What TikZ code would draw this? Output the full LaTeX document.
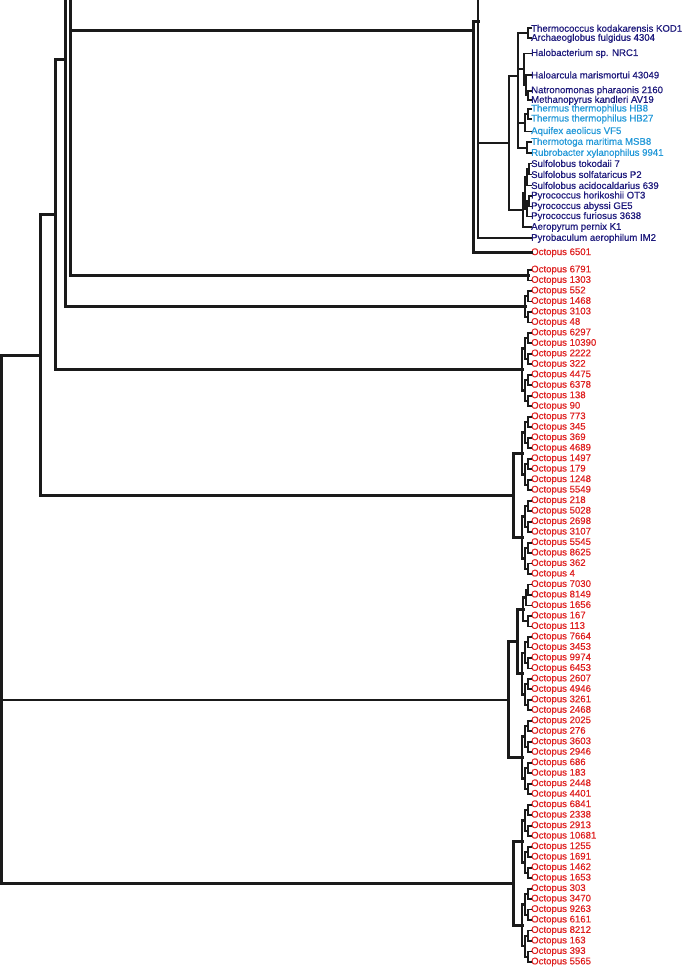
\documentclass[tikz,border=0pt]{standalone}
\usepackage{fontspec}
\setmainfont{Liberation Sans}
\newfontfamily\labfont[FakeBold=0.6]{Liberation Sans}
\definecolor{archblue}{HTML}{1E1A7C}
\definecolor{bactcyan}{HTML}{2298D8}
\definecolor{octred}{HTML}{DE2020}
\definecolor{treeblk}{HTML}{1A1A1A}
\newcommand\tl[4]{\node[lab,text=#3] (#1) at (531,#2) {#4};}
\newcommand\pr[1]{\draw[tk] (531,{oy(#1)}) -| (528,{oy(#1+1)}) -- (531,{oy(#1+1)});}
\newcommand\qd[1]{\pr{#1}\pr{#1+2}\draw[tk] (528,{oy(#1+0.5)}) -| (525,{oy(#1+2.5)}) -- (528,{oy(#1+2.5)});}
\newcommand\oc[1]{\qd{#1}\qd{#1+4}\draw[tk2] (525,{oy(#1+1.5)}) -| (522,{oy(#1+5.5)}) -- (525,{oy(#1+5.5)});}
\newcommand\sx[1]{\oc{#1}\oc{#1+8}\draw[br] (522,{oy(#1+3.5)}) -| (513,{oy(#1+11.5)}) -- (522,{oy(#1+11.5)});}
\begin{document}
\begin{tikzpicture}[x=1pt,y=-1pt,
  declare function={oy(\i)=270+10.4848*\i;},
  lab/.style={anchor=west,inner sep=0pt,font=\labfont\fontsize{9.6}{10}\selectfont},
  olab/.style={lab,text=octred},
  br/.style={line width=3pt,draw=treeblk,line cap=rect,line join=miter},
  thinbr/.style={line width=2.1pt,draw=treeblk,line cap=rect},
  tk/.style={line width=1.8pt,draw=treeblk,line cap=rect},
  tk2/.style={line width=2.4pt,draw=treeblk,line cap=rect}]
\useasboundingbox (0,0) rectangle (685,968);
% ---- top labels
\tl{t1}{28.3}{archblue}{Thermococcus kodakarensis KOD1}
\tl{t2}{38.3}{archblue}{Archaeoglobus fulgidus 4304}
\tl{t3}{53.5}{archblue}{Halobacterium sp. NRC1}
\tl{t4}{75}{archblue}{Haloarcula marismortui 43049}
\tl{t5}{90.7}{archblue}{Natronomonas pharaonis 2160}
\tl{t6}{100.3}{archblue}{Methanopyrus kandleri AV19}
\tl{t7}{109}{bactcyan}{Thermus thermophilus HB8}
\tl{t8}{119}{bactcyan}{Thermus thermophilus HB27}
\tl{t9}{131.5}{bactcyan}{Aquifex aeolicus VF5}
\tl{t10}{142.3}{bactcyan}{Thermotoga maritima MSB8}
\tl{t11}{153.3}{bactcyan}{Rubrobacter xylanophilus 9941}
\tl{t12}{163.5}{archblue}{Sulfolobus tokodaii 7}
\tl{t13}{174.5}{archblue}{Sulfolobus solfataricus P2}
\tl{t14}{185.5}{archblue}{Sulfolobus acidocaldarius 639}
\tl{t15}{196}{archblue}{Pyrococcus horikoshii OT3}
\tl{t16}{206.5}{archblue}{Pyrococcus abyssi GE5}
\tl{t17}{216.5}{archblue}{Pyrococcus furiosus 3638}
\tl{t18}{227.3}{archblue}{Aeropyrum pernix K1}
\tl{t19}{238.3}{archblue}{Pyrobaculum aerophilum IM2}
\tl{o6501}{252.7}{octred}{Octopus 6501}
% ---- octopus labels
\foreach \n [count=\i from 0] in {6791,1303,552,1468,3103,48,6297,10390,2222,322,4475,6378,138,90,773,345,369,4689,1497,179,1248,5549,218,5028,2698,3107,5545,8625,362,4,7030,8149,1656,167,113,7664,3453,9974,6453,2607,4946,3261,2468,2025,276,3603,2946,686,183,2448,4401,6841,2338,2913,10681,1255,1691,1462,1653,303,3470,9263,6161,8212,163,393,5565}
  \node[olab] (oct\n) at (531,{oy(\i)}) {Octopus \n};
% ---- top clade
\draw[tk] (t1.west) -- ++(-3,0) |- (t2.west);
\draw[tk] (t5.west) -- ++(-3,0) |- (t6.west);
\draw[tk] (t4.west) -- (526,75) -- (526,95.5) -- (528,95.5);
\draw[tk] (t3.west) -- (524,53.5) -- (524,85.25) -- (526,85.25);
\draw[tk] (t7.west) -- ++(-3,0) |- (t8.west);
\draw[tk] (t9.west) -- (525,131.5) -- (525,114) -- (528,114);
\draw[tk] (t10.west) -- ++(-4,0) |- (t11.west);
\draw[tk2] (528,33.3) -- (518,33.3) -- (518,147.8) -- (527,147.8);
\draw[tk] (518,69.4) -- (524,69.4);
\draw[tk] (518,122.75) -- (525,122.75);
\draw[tk] (t12.west) -- ++(-2,0) |- (t13.west);
\draw[tk] (t14.west) -- (527,185.5) -- (527,169) -- (529,169);
\draw[tk] (t15.west) -- ++(-2,0) |- (t16.west);
\draw[tk] (t17.west) -- (527,216.5) -- (527,201.25) -- (529,201.25);
\draw[tk] (527,177.25) -- (525,177.25) -- (525,208.9) -- (527,208.9);
\draw[tk] (t18.west) -- (523,227.3) -- (523,193) -- (525,193);
\draw[tk2] (518,76) -- (509,76) -- (509,210.2) -- (523,210.2);
\draw[tk2] (478,-5) -- (478,238.3) -- (t19.west);
\draw[tk2] (478,143) -- (509,143);
\draw[br] (478,22) -- (473,22) -- (473,252.7) -- (o6501.west);
\draw[br] (70,31) -- (473,31);
% ---- octopus clades
\pr{0}
\qd{2}
\oc{6}
\sx{14}
\pr{30}
\draw[tk] (531,{oy(32)}) -| (526,{oy(30.5)}) -- (528,{oy(30.5)});
\pr{33}
\draw[tk2] (526,{oy(31.25)}) -| (523,{oy(33.5)}) -- (528,{oy(33.5)});
\oc{35}
\draw[br] (523,{oy(32.375)}) -| (517,{oy(38.5)}) -- (522,{oy(38.5)});
\oc{43}
\draw[br] (517,{oy(35.4375)}) -| (508,{oy(46.5)}) -- (522,{oy(46.5)});
\sx{51}
% ---- backbone
\draw[br] (70,-5) -- (70,{oy(0.5)}) -- (528,{oy(0.5)});
\draw[br] (65.5,-5) -- (65.5,{oy(3.5)}) -- (525,{oy(3.5)});
\draw[br] (65.5,60) -- (55,60) -- (55,{oy(9.5)}) -- (522,{oy(9.5)});
\draw[br] (55,214.8) -- (40,214.8) -- (40,{oy(21.5)}) -- (513,{oy(21.5)});
\draw[br] (40,355.1) -- (1.6,355.1) -- (1.6,{oy(58.5)}) -- (513,{oy(58.5)});
\draw[thinbr] (1.6,{oy(40.96875)}) -- (508,{oy(40.96875)});
\end{tikzpicture}
\end{document}
